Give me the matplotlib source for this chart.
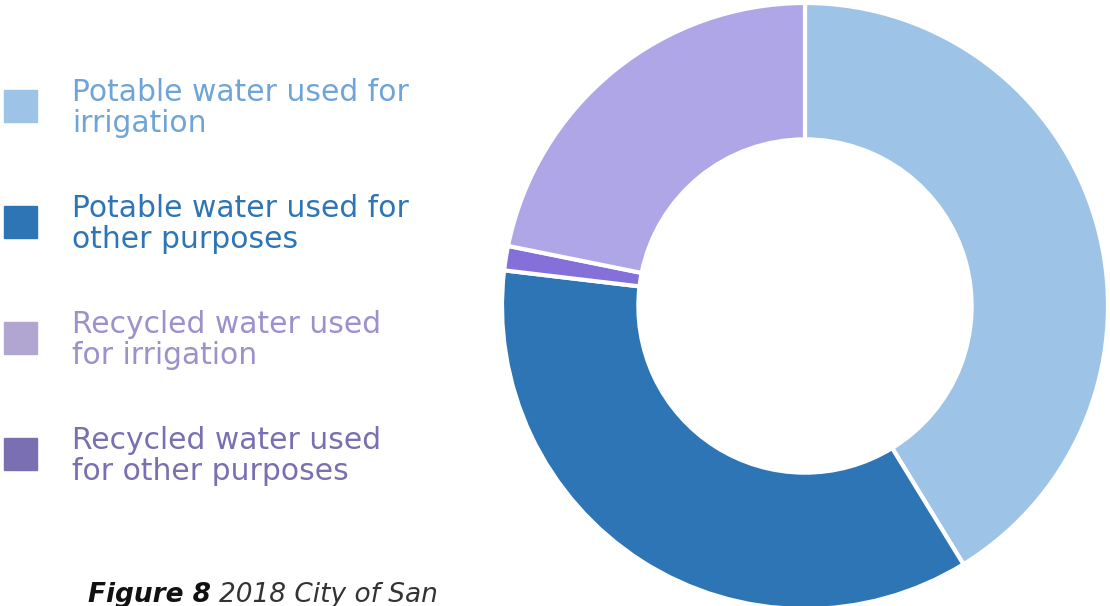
import matplotlib.pyplot as plt
from matplotlib.patches import Rectangle

# Water use shares (percent)
labels = [
    "Potable water used for\nirrigation",
    "Potable water used for\nother purposes",
    "Recycled water used\nfor irrigation",
    "Recycled water used\nfor other purposes",
]
values = [41.2, 35.6, 21.8, 1.3]
slice_colors = ["#9dc3e6", "#2e75b6", "#afa6e8", "#8470d8"]
legend_colors = ["#9dc3e6", "#2e75b6", "#b1a6d1", "#7a6fb0"]
text_colors = ["#6fa5d6", "#2e75b6", "#9d90cc", "#7a6fb0"]

W, H = 1110, 606
fig = plt.figure(figsize=(W / 100, H / 100), dpi=100)
plt.rcParams["font.family"] = ["DejaVu Sans"]

# donut: center (805, 306) px, radius 303 px
cx, cy, r = 805, 306, 303
ax = fig.add_axes([(cx - r) / W, (H - cy - r) / H, 2 * r / W, 2 * r / H])
# slices drawn clockwise from top: light blue, dark blue, small purple, lavender
order = [0, 1, 3, 2]
wedges, _ = ax.pie(
    [values[i] for i in order],
    colors=[slice_colors[i] for i in order],
    startangle=90,
    counterclock=False,
    radius=1,
    wedgeprops=dict(width=0.45, edgecolor="white", linewidth=3),
)
for w in wedges:
    w.set_clip_on(False)
ax.set_xlim(-1, 1)
ax.set_ylim(-1, 1)
ax.set_aspect("equal")
ax.axis("off")

# legend drawn by hand
box_tops = [90, 206, 322, 438]
for lab, bc, tc, top in zip(labels, legend_colors, text_colors, box_tops):
    fig.patches.append(Rectangle((4 / W, (H - top - 32) / H), 33 / W, 32 / H,
                                 transform=fig.transFigure, color=bc))
    fig.text(72 / W, (H - top + 12) / H, lab, color=tc, fontsize=21.4,
             va="top", ha="left", linespacing=1.08)

# caption at the bottom edge
cap = fig.text(88 / W, (H - 582) / H, "Figure 8", fontsize=19, fontweight="bold",
               fontstyle="italic", color="#111111", va="top")
fig.add_artist(plt.Annotation("2018 City of San", xy=(1, 1), xycoords=cap,
                              xytext=(6, 0), textcoords="offset points",
                              fontsize=19, fontstyle="italic", color="#333333",
                              va="top", ha="left"))

fig.savefig("out.png", dpi=100)
